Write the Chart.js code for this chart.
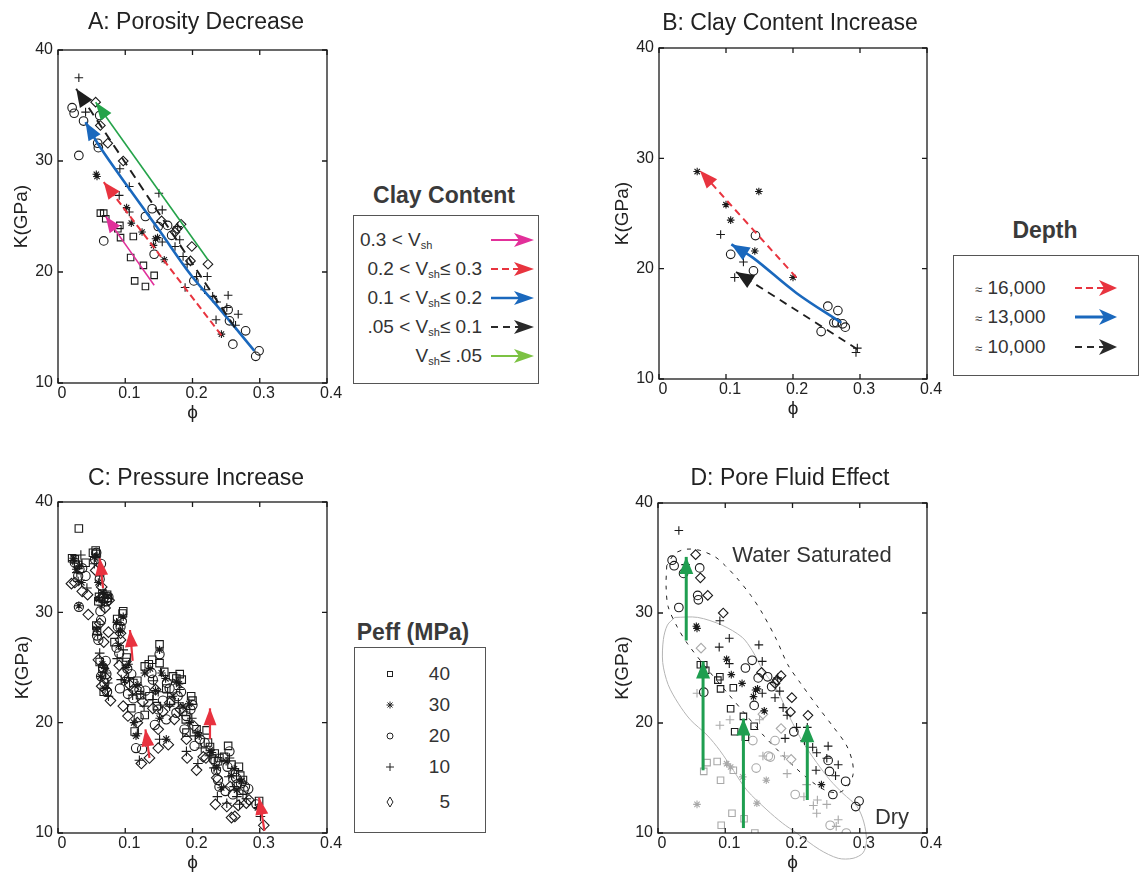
<!DOCTYPE html>
<html>
<head>
<meta charset="utf-8">
<script src="https://cdn.jsdelivr.net/npm/chart.js@4.4.0/dist/chart.umd.min.js"></script>
<style>
  body { margin: 0; background: #fff; overflow: hidden; }
  #page { position: relative; width: 1139px; height: 872px; font-family: 'Liberation Sans', Arial, sans-serif; color: #222; }
  canvas { position: absolute; }
  .t { position: absolute; white-space: nowrap; transform: translate(-50%, -50%); line-height: 1; }
  .title { font-size: 23px; color: #222; }
  .lt { font-size: 23px; font-weight: bold; color: #3a3a3a; }
  .note { font-size: 22px; color: #333; }
  .box { position: absolute; border: 1px solid #555; box-sizing: border-box; }
  .row { position: absolute; white-space: nowrap; font-size: 19px; line-height: 20px; color: #333; }
  .sub { font-size: 11px; position: relative; top: 3px; }
  .apx { font-size: 13px; }
  svg { position: absolute; left: 0; top: 0; pointer-events: none; }
</style>
</head>
<body>
<div id="page">
  <canvas id="cA" width="346" height="425" style="left:0;top:0"></canvas>
  <canvas id="cB" width="346" height="421" style="left:600px;top:0"></canvas>
  <canvas id="cC" width="346" height="415" style="left:0;top:460px"></canvas>
  <canvas id="cD" width="346" height="415" style="left:600px;top:460px"></canvas>

  <div class="t title" style="left:196px;top:21px">A: Porosity Decrease</div>
  <div class="t title" style="left:790px;top:22px">B: Clay Content Increase</div>
  <div class="t title" style="left:196px;top:477px">C: Pressure Increase</div>
  <div class="t title" style="left:790px;top:477px">D: Pore Fluid Effect</div>

  <!-- legende A -->
  <div class="t lt" style="left:444px;top:195px">Clay Content</div>
  <div class="box" style="left:353px;top:215px;width:186px;height:169px"></div>
  <div class="row" style="left:360px;top:230px">0.3 &lt; V<span class="sub">sh</span></div>
  <div class="row" style="right:657px;top:259px">0.2 &lt; V<span class="sub">sh</span>≤ 0.3</div>
  <div class="row" style="right:657px;top:288px">0.1 &lt; V<span class="sub">sh</span>≤ 0.2</div>
  <div class="row" style="right:657px;top:317px">.05 &lt; V<span class="sub">sh</span>≤ 0.1</div>
  <div class="row" style="right:657px;top:346px">V<span class="sub">sh</span>≤ .05</div>

  <!-- legende B -->
  <div class="t lt" style="left:1045px;top:230px">Depth</div>
  <div class="box" style="left:953px;top:255px;width:186px;height:121px"></div>
  <div class="row" style="left:975px;top:278px"><span class="apx">≈</span> 16,000</div>
  <div class="row" style="left:975px;top:307px"><span class="apx">≈</span> 13,000</div>
  <div class="row" style="left:975px;top:337px"><span class="apx">≈</span> 10,000</div>

  <!-- legende C -->
  <div class="t lt" style="left:413px;top:632px">Peff (MPa)</div>
  <div class="box" style="left:354px;top:647px;width:132px;height:186px"></div>
  <div class="row" style="right:689px;top:664px">40</div>
  <div class="row" style="right:689px;top:695px">30</div>
  <div class="row" style="right:689px;top:726px">20</div>
  <div class="row" style="right:689px;top:757px">10</div>
  <div class="row" style="right:689px;top:792px">5</div>

  <!-- textos do painel D -->
  <div class="t note" style="left:812px;top:555px">Water Saturated</div>
  <div class="t note" style="left:892px;top:817px">Dry</div>

  <svg width="1139" height="872">
    <!-- setas da legenda A -->
    <line x1="491" y1="240" x2="520" y2="240" stroke="#e2309a" stroke-width="2"/>
    <polygon points="534,240 514,233 519,240 514,247" fill="#e2309a"/>
    <line x1="491" y1="269" x2="520" y2="269" stroke="#e8343f" stroke-width="2" stroke-dasharray="7 4"/>
    <polygon points="534,269 514,262 519,269 514,276" fill="#e8343f"/>
    <line x1="491" y1="298" x2="520" y2="298" stroke="#1a68bd" stroke-width="2.5"/>
    <polygon points="534,298 514,291 519,298 514,305" fill="#1a68bd"/>
    <line x1="491" y1="327" x2="520" y2="327" stroke="#2a2a2a" stroke-width="2" stroke-dasharray="7 5"/>
    <polygon points="534,327 514,320 519,327 514,334" fill="#2a2a2a"/>
    <line x1="491" y1="356" x2="520" y2="356" stroke="#7cc243" stroke-width="2"/>
    <polygon points="534,356 514,349 519,356 514,363" fill="#7cc243"/>
    <!-- setas da legenda B -->
    <line x1="1075" y1="288" x2="1104" y2="288" stroke="#e8343f" stroke-width="2" stroke-dasharray="7 4"/>
    <polygon points="1117,288 1099,280 1104,288 1099,296" fill="#e8343f"/>
    <line x1="1075" y1="317" x2="1104" y2="317" stroke="#1a68bd" stroke-width="3"/>
    <polygon points="1117,317 1099,309 1104,317 1099,325" fill="#1a68bd"/>
    <line x1="1075" y1="347" x2="1104" y2="347" stroke="#2a2a2a" stroke-width="2" stroke-dasharray="7 5"/>
    <polygon points="1117,347 1099,339 1104,347 1099,355" fill="#2a2a2a"/>
    <!-- marcadores da legenda C -->
    <rect x="387.5" y="671.5" width="5" height="5" fill="none" stroke="#222" stroke-width="1"/>
    <path d="M386.5 705 h7 M390 701.5 v7 M387.5 702.5 l5 5 M392.5 702.5 l-5 5" stroke="#222" stroke-width="1"/>
    <circle cx="390" cy="736" r="3" fill="none" stroke="#222" stroke-width="1"/>
    <path d="M386 767 h8 M390 763 v8" stroke="#222" stroke-width="1"/>
    <polygon points="390,797 393,802 390,807 387,802" fill="none" stroke="#222" stroke-width="1"/>
  </svg>
</div>

<script>
// eixos
const xTickValues = [0, 0.1, 0.2, 0.3, 0.4];
const xTickLabels = ['0', '0.1', '0.2', '0.3', '0.4'];
const yTickValues = [10, 20, 30, 40];
const yTickLabels = ['10', '20', '30', '40'];

// A: dados saturados em agua (phi, K)
const aPlus = [[0.031,37.5],[0.041,34.4],[0.092,29.3],[0.106,27.7],[0.091,26.9],[0.106,25.4],[0.150,27.1],[0.155,25.6],[0.155,22.7],[0.174,22.3],[0.181,22.9],[0.186,21.4],[0.189,18.6],[0.206,19.6],[0.222,19.6],[0.218,18.4],[0.230,17.8],[0.236,17.3],[0.253,17.9],[0.251,16.8],[0.268,16.2],[0.235,15.7],[0.264,15.2],[0.178,24.1],[0.192,20.7]];
const aCircle = [[0.021,34.8],[0.024,34.3],[0.038,33.6],[0.062,34.1],[0.031,30.5],[0.060,31.2],[0.059,31.6],[0.068,22.8],[0.130,25.0],[0.140,25.7],[0.149,24.1],[0.163,24.2],[0.169,23.3],[0.143,21.6],[0.202,19.2],[0.253,16.6],[0.255,15.6],[0.260,13.5],[0.279,14.7],[0.294,12.4],[0.299,12.9]];
const aSquare = [[0.063,25.3],[0.068,25.3],[0.071,24.8],[0.092,24.2],[0.089,23.9],[0.093,23.1],[0.112,23.2],[0.108,21.3],[0.127,20.6],[0.143,19.7],[0.114,19.2],[0.130,18.7]];
const aStar = [[0.057,28.8],[0.058,28.6],[0.102,25.8],[0.109,24.4],[0.125,23.6],[0.145,23.0],[0.148,23.1],[0.142,22.4],[0.158,21.1],[0.243,14.4]];
const aDiamond = [[0.056,35.3],[0.063,33.2],[0.074,31.6],[0.097,30.0],[0.154,24.6],[0.183,24.3],[0.177,23.9],[0.174,23.6],[0.199,22.3],[0.197,21.0],[0.223,20.7]];

// A: setas por teor de argila
const aArrowClay3 = [[0.143,18.8],[0.071,25.0]];
const aArrowClay2 = [[0.243,14.3],[0.068,28.1]];
const aArrowClay1 = [[0.292,12.9],[0.240,16.7],[0.198,19.7],[0.150,23.8],[0.106,27.5],[0.062,31.3],[0.041,33.5]];
const aArrowClay05 = [[0.263,15.0],[0.027,36.5]];
const aArrowClean = [[0.223,21.1],[0.056,35.3]];

// B: pontos e setas por profundidade
const bStar = [[0.057,28.8],[0.149,27.0],[0.100,25.8],[0.107,24.4],[0.143,21.6],[0.200,19.2]];
const bPlus = [[0.092,23.1],[0.126,20.6],[0.113,19.2],[0.296,12.8],[0.294,12.4]];
const bCircle = [[0.144,23.0],[0.107,21.3],[0.141,19.8],[0.252,16.6],[0.267,16.2],[0.261,15.1],[0.265,15.1],[0.274,15.0],[0.278,14.7],[0.242,14.3]];
const bArrow16000 = [[0.205,19.2],[0.135,23.9],[0.061,28.9]];
const bArrow13000 = [[0.272,15.1],[0.205,17.8],[0.140,21.0],[0.108,22.2]];
const bArrow10000 = [[0.296,12.7],[0.115,19.7]];

// C: pontos por pressao efetiva
const c40 = [[0.021,34.9],[0.025,34.8],[0.031,37.6],[0.041,34.5],[0.030,34.3],[0.056,35.6],[0.057,35.3],[0.061,31.4],[0.060,31.0],[0.057,28.8],[0.058,28.3],[0.073,31.6],[0.074,31.3],[0.062,25.5],[0.068,22.8],[0.066,24.9],[0.097,30.1],[0.096,29.9],[0.084,27.3],[0.102,25.9],[0.112,23.6],[0.109,21.3],[0.114,19.2],[0.129,20.7],[0.129,25.1],[0.140,25.7],[0.151,27.1],[0.151,25.4],[0.161,23.1],[0.136,22.4],[0.176,24.0],[0.181,24.4],[0.198,22.4],[0.206,19.4],[0.186,21.0],[0.191,19.1],[0.221,19.3],[0.233,17.2],[0.223,18.2],[0.240,16.8],[0.253,17.9],[0.238,16.5],[0.269,16.0],[0.275,14.8],[0.263,15.5],[0.299,12.9],[0.122,22.5],[0.168,22.0],[0.147,21.5],
  [0.052,35.4],[0.066,31.7],[0.088,29.4],[0.118,23.8],[0.158,24.6],[0.171,24.2],[0.184,23.9],[0.200,22.0],[0.226,17.8],[0.247,16.9],[0.258,16.2],[0.271,15.2],[0.190,20.3],[0.101,25.5],[0.135,25.3]];
const c30 = [[0.023,34.9],[0.032,34.2],[0.035,32.7],[0.031,30.6],[0.027,33.9],[0.058,35.1],[0.060,32.7],[0.061,31.2],[0.057,28.5],[0.074,31.5],[0.066,25.3],[0.070,24.9],[0.063,24.2],[0.097,29.6],[0.093,28.3],[0.090,27.0],[0.105,25.3],[0.099,23.8],[0.116,18.8],[0.113,20.0],[0.151,26.6],[0.129,24.5],[0.154,24.5],[0.171,22.4],[0.186,21.5],[0.151,20.4],[0.161,18.5],[0.145,22.9],[0.196,20.0],[0.210,18.8],[0.236,15.9],[0.243,14.1],[0.258,15.2],[0.266,13.9],[0.297,12.3],[0.226,17.5],[0.180,23.5],
  [0.054,35.0],[0.067,31.8],[0.087,29.1],[0.119,23.4],[0.160,24.0],[0.176,23.7],[0.195,21.7],[0.229,17.3],[0.250,16.5],[0.262,15.8],[0.273,14.7],[0.137,24.9],[0.101,25.0],[0.208,19.1],[0.070,23.1]];
const c20 = [[0.025,34.5],[0.032,33.9],[0.030,33.3],[0.041,33.3],[0.031,30.5],[0.036,34.0],[0.057,35.4],[0.064,34.4],[0.062,33.0],[0.063,30.1],[0.064,29.3],[0.058,27.9],[0.060,27.5],[0.075,31.4],[0.072,31.0],[0.071,25.6],[0.067,25.0],[0.064,24.2],[0.072,24.4],[0.069,23.6],[0.095,29.2],[0.093,28.7],[0.087,26.8],[0.091,26.3],[0.109,24.4],[0.092,23.1],[0.112,22.2],[0.116,17.7],[0.144,19.8],[0.120,20.5],[0.104,22.6],[0.151,26.2],[0.141,23.9],[0.166,23.1],[0.176,20.9],[0.191,20.6],[0.149,21.2],[0.188,19.4],[0.161,20.3],[0.130,22.9],[0.156,22.0],[0.200,21.6],[0.203,17.9],[0.218,18.2],[0.235,15.7],[0.234,16.5],[0.238,14.8],[0.240,14.2],[0.255,17.4],[0.278,14.2],[0.249,13.8],[0.260,13.5],[0.265,15.0],[0.295,12.6],[0.272,14.5],[0.183,22.8],[0.125,17.6],
  [0.055,34.8],[0.068,31.3],[0.089,28.7],[0.121,23.0],[0.162,23.6],[0.178,22.4],[0.197,21.2],[0.231,16.7],[0.252,16.0],[0.266,14.4],[0.276,13.9],[0.139,24.5],[0.103,24.9],[0.211,18.5],[0.073,22.8],[0.283,14.0]];
const c10 = [[0.034,35.2],[0.028,33.6],[0.043,32.2],[0.030,32.8],[0.022,34.7],[0.056,35.0],[0.062,33.3],[0.065,30.6],[0.059,28.0],[0.062,26.3],[0.068,25.0],[0.074,23.6],[0.071,24.5],[0.092,28.9],[0.088,25.8],[0.097,26.6],[0.094,23.9],[0.111,22.5],[0.121,16.6],[0.118,19.0],[0.128,21.5],[0.149,22.8],[0.166,21.5],[0.181,23.0],[0.196,21.2],[0.141,22.1],[0.151,18.5],[0.133,18.2],[0.191,17.4],[0.208,16.3],[0.255,16.8],[0.237,13.3],[0.251,12.7],[0.270,12.6],[0.275,13.5],[0.301,11.5],[0.225,17.0],[0.204,18.8],[0.262,14.2],
  [0.054,34.4],[0.069,30.9],[0.090,28.2],[0.123,22.6],[0.163,22.7],[0.179,21.8],[0.199,20.4],[0.232,15.9],[0.254,15.1],[0.266,13.3],[0.280,13.1],[0.142,23.8],[0.105,24.1],[0.213,17.7],[0.075,22.4]];
const c5 = [[0.020,32.6],[0.025,32.7],[0.036,31.9],[0.044,31.6],[0.045,29.8],[0.065,32.3],[0.062,29.0],[0.068,27.3],[0.064,31.3],[0.076,31.1],[0.075,28.2],[0.065,23.3],[0.071,23.0],[0.072,24.0],[0.060,25.7],[0.093,28.1],[0.091,25.2],[0.096,24.5],[0.097,21.5],[0.104,20.6],[0.112,23.0],[0.124,16.3],[0.136,16.8],[0.149,17.7],[0.164,18.0],[0.141,21.3],[0.156,21.0],[0.173,20.3],[0.191,18.5],[0.149,19.4],[0.192,16.8],[0.206,15.7],[0.220,16.8],[0.251,12.4],[0.263,11.5],[0.280,12.7],[0.284,13.0],[0.234,12.6],[0.306,10.7],[0.118,20.0],
  [0.056,33.8],[0.070,30.4],[0.093,27.5],[0.126,21.9],[0.166,21.8],[0.182,21.2],[0.202,19.7],[0.236,15.0],[0.256,14.2],[0.268,12.5],[0.145,23.0],[0.107,23.4],[0.216,16.9],[0.078,22.0],[0.258,11.4]];
const cArrows = [
  [[0.067,32.2],[0.062,34.9]],
  [[0.111,25.6],[0.107,28.4]],
  [[0.136,16.8],[0.130,19.4]],
  [[0.226,18.5],[0.226,21.3]],
  [[0.307,10.2],[0.299,13.2]]
];

// D: rocha seca (cinza)
const dPlus = [[0.058,22.7],[0.092,19.8],[0.107,20.3],[0.151,20.3],[0.156,17.0],[0.188,17.0],[0.192,15.4],[0.221,14.4],[0.217,13.3],[0.231,12.5],[0.236,11.8],[0.237,13.0],[0.251,12.6],[0.268,11.2],[0.265,10.6]];
const dCircle = [[0.141,18.4],[0.174,18.4],[0.164,17.0],[0.167,16.9],[0.146,15.9],[0.204,13.5],[0.256,10.7],[0.280,10.0]];
const dSquare = [[0.073,16.4],[0.068,15.6],[0.088,16.5],[0.093,14.8],[0.112,15.7],[0.110,11.8],[0.094,10.7],[0.128,11.3],[0.144,10.0]];
const dStar = [[0.058,12.6],[0.102,16.3],[0.108,16.0],[0.126,15.1],[0.161,14.8],[0.147,12.7]];
const dDiamond = [[0.064,26.8],[0.183,19.5],[0.156,20.8],[0.198,16.7]];
const dArrows = [
  [[0.042,27.5],[0.042,35.1]],
  [[0.067,15.7],[0.067,25.6]],
  [[0.127,10.45],[0.127,20.4]],
  [[0.222,13.0],[0.222,19.8]]
];
const dWetOutline = [[0.013,34.3],[0.012,32.5],[0.015,30.6],[0.028,28.8],[0.044,27.2],[0.072,25.0],[0.105,22.6],[0.130,20.8],[0.155,19.0],[0.180,17.4],[0.205,15.9],[0.230,14.6],[0.252,13.8],[0.270,13.7],[0.283,14.3],[0.290,15.3],[0.289,16.5],[0.280,18.0],[0.260,19.7],[0.236,21.6],[0.211,23.7],[0.193,25.3],[0.176,27.6],[0.155,30.0],[0.138,31.6],[0.117,33.2],[0.100,34.3],[0.085,35.1],[0.062,35.7],[0.042,35.8],[0.025,35.4],[0.013,34.3]];
const dDryOutline = [[0.025,29.6],[0.059,29.6],[0.095,28.9],[0.125,27.8],[0.140,26.6],[0.156,24.8],[0.177,23.0],[0.196,20.5],[0.216,18.2],[0.236,16.4],[0.256,14.8],[0.275,13.6],[0.296,12.4],[0.306,11.0],[0.310,9.3],[0.305,8.2],[0.290,7.7],[0.268,7.7],[0.240,8.5],[0.206,10.0],[0.185,10.9],[0.162,12.1],[0.132,13.9],[0.112,15.7],[0.092,17.5],[0.073,18.9],[0.048,20.3],[0.030,21.8],[0.015,23.5],[0.007,25.5],[0.008,27.6],[0.014,28.9],[0.025,29.6]];

Chart.defaults.font.family = "'Liberation Sans', Arial, Helvetica, sans-serif";
Chart.defaults.color = '#222';

function xy(list) { return list.map(p => ({ x: p[0], y: p[1] })); }

function marks(list, style, r, color) {
  return { data: xy(list), pointStyle: style, pointRadius: r, pointHoverRadius: r,
    pointBorderColor: color, pointBackgroundColor: 'rgba(0,0,0,0)', pointBorderWidth: 1.1, showLine: false };
}

function arrow(list, color, width, dash, head) {
  return { data: xy(list), showLine: true, borderColor: color, borderWidth: width, borderDash: dash,
    pointRadius: 0, pointHoverRadius: 0, tension: 0.35, fill: false, head: head };
}

function outline(list, color, dash) {
  return { data: xy(list), showLine: true, borderColor: color, borderWidth: 1, borderDash: dash,
    pointRadius: 0, pointHoverRadius: 0, tension: 0.3, fill: false, clip: false };
}

// caixa com marcas para dentro, estilo matlab
const boxTicks = {
  id: 'boxTicks',
  afterDatasetsDraw(chart) {
    const { ctx, chartArea: a, scales: { x, y } } = chart;
    ctx.save();
    ctx.strokeStyle = '#1a1a1a';
    ctx.lineWidth = 1.3;
    ctx.strokeRect(a.left, a.top, a.right - a.left, a.bottom - a.top);
    ctx.beginPath();
    xTickValues.forEach(v => {
      const px = x.getPixelForValue(v);
      ctx.moveTo(px, a.bottom); ctx.lineTo(px, a.bottom - 5);
      ctx.moveTo(px, a.top); ctx.lineTo(px, a.top + 5);
    });
    yTickValues.forEach(v => {
      const py = y.getPixelForValue(v);
      ctx.moveTo(a.left, py); ctx.lineTo(a.left + 5, py);
      ctx.moveTo(a.right, py); ctx.lineTo(a.right - 5, py);
    });
    ctx.stroke();
    ctx.restore();
  }
};

// ponta de seta no ultimo ponto
const arrowHeads = {
  id: 'arrowHeads',
  afterDatasetsDraw(chart) {
    const ctx = chart.ctx;
    chart.data.datasets.forEach((ds, i) => {
      if (!ds.head) return;
      const pts = chart.getDatasetMeta(i).data;
      const a = pts[pts.length - 2], b = pts[pts.length - 1];
      const ang = Math.atan2(b.y - a.y, b.x - a.x);
      const len = ds.head[0], hw = ds.head[1];
      ctx.save();
      ctx.translate(b.x, b.y);
      ctx.rotate(ang);
      ctx.beginPath();
      ctx.moveTo(0, 0);
      ctx.lineTo(-len, -hw);
      ctx.lineTo(-len, hw);
      ctx.closePath();
      ctx.fillStyle = ds.borderColor;
      ctx.fill();
      ctx.restore();
    });
  }
};

function panelOptions(p) {
  return {
    responsive: false,
    animation: false,
    events: [],
    layout: { padding: { left: 0, top: p.top, right: p.right, bottom: 0 } },
    plugins: { legend: { display: false }, tooltip: { enabled: false } },
    scales: {
      x: {
        type: 'linear', min: 0, max: 0.4,
        afterBuildTicks: s => { s.ticks = xTickValues.map(v => ({ value: v })); },
        afterFit: s => { s.height = p.xh; s.paddingLeft = 0; s.paddingRight = 0; },
        grid: { display: false, drawTicks: false },
        border: { display: false },
        ticks: { autoSkip: false, maxRotation: 0, padding: 1, labelOffset: 4, font: { size: 16 }, callback: (v, i) => xTickLabels[i] },
        title: { display: true, text: 'ϕ', font: { size: 19 }, padding: { top: 0, bottom: 1 } }
      },
      y: {
        type: 'linear', min: 10, max: 40,
        afterBuildTicks: s => { s.ticks = yTickValues.map(v => ({ value: v })); },
        afterFit: s => { s.width = p.yw; s.paddingTop = 0; s.paddingBottom = 0; },
        grid: { display: false, drawTicks: false },
        border: { display: false },
        ticks: { autoSkip: false, padding: 5, font: { size: 16 }, callback: (v, i) => yTickLabels[i] },
        title: { display: true, text: 'K(GPa)', font: { size: 19 }, padding: { top: p.tp, bottom: 0 } }
      }
    }
  };
}

function makePanel(id, datasets, p) {
  return new Chart(document.getElementById(id), {
    type: 'scatter',
    data: { datasets: datasets },
    options: panelOptions(p),
    plugins: [boxTicks, arrowHeads]
  });
}

const black = '#1a1a1a';
const gray = '#a9a9a9';

// A: Porosity Decrease
makePanel('cA', [
  arrow(aArrowClean, '#25a34a', 1.6, [], [18, 6.5]),
  arrow(aArrowClay05, '#1e1e1e', 2, [9, 6], [18, 7.5]),
  arrow(aArrowClay1, '#1a68bd', 2.6, [], [18, 7]),
  arrow(aArrowClay2, '#e8343f', 2, [7, 4], [17, 7]),
  arrow(aArrowClay3, '#e0309a', 1.6, [], [16, 6.5]),
  marks(aPlus, 'cross', 4.3, black),
  marks(aCircle, 'circle', 4.3, black),
  marks(aSquare, 'rect', 4.6, black),
  marks(aStar, 'star', 3.8, black),
  marks(aDiamond, 'rectRot', 4.8, black)
], { top: 50, right: 19, xh: 42, yw: 58, tp: 10.6 });

// B: Clay Content Increase
makePanel('cB', [
  arrow(bArrow16000, '#e8343f', 2, [7, 5], [18, 7]),
  arrow(bArrow13000, '#1a68bd', 2.6, [], [18, 7.5]),
  arrow(bArrow10000, '#1e1e1e', 1.8, [8, 6], [18, 7.5]),
  marks(bStar, 'star', 3.8, black),
  marks(bPlus, 'cross', 4.3, black),
  marks(bCircle, 'circle', 4.3, black)
], { top: 48, right: 19, xh: 42, yw: 59, tp: 11.6 });

// C: Pressure Increase
makePanel('cC', cArrows.map(a => arrow(a, '#e8323f', 2.2, [], [17, 6.5])).concat([
  marks(c40, 'rect', 5.3, black),
  marks(c30, 'star', 4.2, black),
  marks(c20, 'circle', 4.6, black),
  marks(c10, 'cross', 4.8, black),
  marks(c5, 'rectRot', 5.3, black)
]), { top: 42, right: 19, xh: 42, yw: 58, tp: 11.6 });

// D: Pore Fluid Effect
makePanel('cD', dArrows.map(a => arrow(a, '#1f9e50', 3, [], [17, 7])).concat([
  marks(aPlus, 'cross', 4.3, black),
  marks(aCircle, 'circle', 4.3, black),
  marks(aSquare, 'rect', 4.6, black),
  marks(aStar, 'star', 3.8, black),
  marks(aDiamond, 'rectRot', 4.8, black),
  marks(dPlus, 'cross', 4.3, gray),
  marks(dCircle, 'circle', 4.3, gray),
  marks(dSquare, 'rect', 4.6, gray),
  marks(dStar, 'star', 3.8, gray),
  marks(dDiamond, 'rectRot', 4.8, gray),
  outline(dWetOutline, '#222', [4, 6]),
  outline(dDryOutline, '#b4b4b4', [])
]), { top: 43, right: 19, xh: 42, yw: 58, tp: 11.6 });
</script>
</body>
</html>
